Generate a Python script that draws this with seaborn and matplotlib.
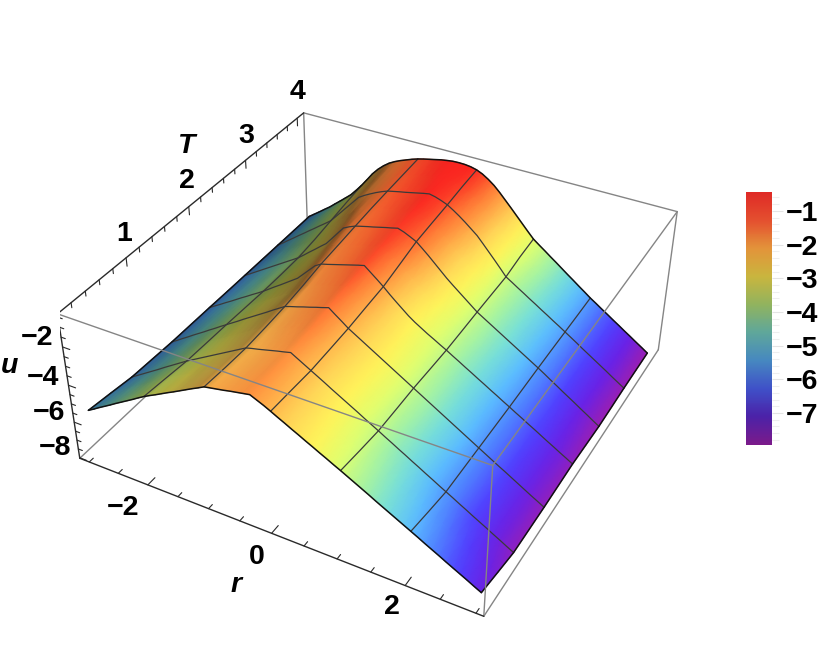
import numpy as np
import matplotlib
matplotlib.use('Agg')
import matplotlib.pyplot as plt
from matplotlib.cm import ScalarMappable
from matplotlib.colors import Normalize
from mpl_toolkits.mplot3d import proj3d
import seaborn as sns

# r runs -3..3 in steps of 0.1, one row of u per T value
r_vals = [round(-3 + 0.1 * i, 1) for i in range(61)]
T_vals = [0.1, 0.425, 0.75, 1.075, 1.4, 1.725, 2.05, 2.375, 2.7, 3.025, 3.35, 3.675, 4.0]

u_00 = [-5.45,-5.26,-5.06,-4.87,-4.68,-4.48,-4.29,-4.10,-3.91,-3.71,-3.52,
        -3.35,-3.19,-3.02,-2.85,-2.69,-2.52,-2.35,-2.18,-2.02,-1.85,
        -1.79,-1.73,-1.67,-1.60,-1.54,-1.48,-1.42,-1.57,-1.72,-1.89,
        -2.07,-2.24,-2.42,-2.59,-2.77,-2.94,-3.12,-3.29,-3.47,-3.64,
        -3.82,-4.00,-4.18,-4.36,-4.55,-4.73,-4.91,-5.09,-5.27,-5.45,
        -5.63,-5.82,-6.00,-6.18,-6.37,-6.55,-6.73,-6.91,-7.10,-7.28]
u_01 = [-5.60,-5.40,-5.21,-5.01,-4.81,-4.62,-4.42,-4.22,-4.02,-3.83,-3.63,
        -3.46,-3.29,-3.12,-2.95,-2.78,-2.60,-2.43,-2.26,-2.09,-1.92,
        -1.85,-1.78,-1.71,-1.63,-1.56,-1.49,-1.42,-1.59,-1.76,-1.93,
        -2.12,-2.30,-2.49,-2.67,-2.86,-3.04,-3.23,-3.41,-3.60,-3.78,
        -3.97,-4.16,-4.34,-4.53,-4.72,-4.91,-5.10,-5.28,-5.47,-5.66,
        -5.85,-6.04,-6.22,-6.41,-6.60,-6.79,-6.98,-7.16,-7.35,-7.54]
u_02 = [-5.76,-5.56,-5.36,-5.16,-4.96,-4.76,-4.55,-4.35,-4.15,-3.95,-3.75,
        -3.57,-3.39,-3.21,-3.03,-2.85,-2.67,-2.49,-2.31,-2.13,-1.95,
        -1.87,-1.80,-1.72,-1.64,-1.56,-1.49,-1.41,-1.60,-1.79,-1.98,
        -2.17,-2.36,-2.56,-2.75,-2.94,-3.13,-3.32,-3.52,-3.71,-3.90,
        -4.10,-4.29,-4.49,-4.68,-4.88,-5.07,-5.27,-5.46,-5.66,-5.85,
        -6.04,-6.24,-6.43,-6.63,-6.82,-7.01,-7.21,-7.40,-7.60,-7.79]
u_03 = [-5.80,-5.60,-5.40,-5.19,-4.99,-4.79,-4.59,-4.39,-4.18,-3.98,-3.78,
        -3.59,-3.40,-3.21,-3.02,-2.83,-2.64,-2.45,-2.26,-2.07,-1.88,
        -1.79,-1.70,-1.61,-1.52,-1.44,-1.35,-1.26,-1.48,-1.70,-1.92,
        -2.12,-2.31,-2.51,-2.70,-2.90,-3.10,-3.29,-3.49,-3.68,-3.88,
        -4.08,-4.27,-4.47,-4.67,-4.87,-5.06,-5.26,-5.46,-5.65,-5.85,
        -6.05,-6.24,-6.44,-6.63,-6.83,-7.03,-7.22,-7.42,-7.61,-7.81]
u_04 = [-5.84,-5.64,-5.43,-5.23,-5.02,-4.82,-4.62,-4.41,-4.21,-4.00,-3.80,
        -3.60,-3.40,-3.19,-2.99,-2.79,-2.59,-2.39,-2.18,-1.98,-1.78,
        -1.68,-1.59,-1.49,-1.40,-1.30,-1.21,-1.11,-1.36,-1.60,-1.85,
        -2.05,-2.25,-2.45,-2.65,-2.85,-3.05,-3.25,-3.45,-3.65,-3.85,
        -4.05,-4.25,-4.45,-4.65,-4.85,-5.05,-5.25,-5.45,-5.65,-5.85,
        -6.05,-6.25,-6.45,-6.64,-6.84,-7.04,-7.24,-7.44,-7.63,-7.83]
u_05 = [-5.84,-5.64,-5.44,-5.24,-5.04,-4.84,-4.64,-4.44,-4.24,-4.04,-3.84,
        -3.64,-3.43,-3.23,-3.02,-2.82,-2.61,-2.41,-2.20,-1.91,-1.62,
        -1.53,-1.43,-1.34,-1.24,-1.15,-1.05,-0.96,-1.21,-1.47,-1.72,
        -1.97,-2.21,-2.44,-2.66,-2.88,-3.09,-3.29,-3.49,-3.69,-3.88,
        -4.08,-4.28,-4.47,-4.67,-4.87,-5.06,-5.26,-5.46,-5.65,-5.85,
        -6.05,-6.24,-6.44,-6.64,-6.84,-7.03,-7.23,-7.43,-7.62,-7.82]
u_06 = [-5.84,-5.64,-5.45,-5.25,-5.06,-4.86,-4.66,-4.47,-4.27,-4.08,-3.88,
        -3.66,-3.44,-3.23,-3.01,-2.79,-2.57,-2.25,-1.93,-1.61,-1.42,
        -1.34,-1.25,-1.16,-1.07,-0.98,-0.89,-0.81,-1.07,-1.33,-1.60,
        -1.90,-2.18,-2.45,-2.72,-2.95,-3.15,-3.35,-3.53,-3.72,-3.90,
        -4.10,-4.29,-4.49,-4.68,-4.88,-5.07,-5.27,-5.46,-5.66,-5.85,
        -6.05,-6.24,-6.44,-6.63,-6.83,-7.03,-7.22,-7.42,-7.61,-7.81]
u_07 = [-5.85,-5.65,-5.46,-5.26,-5.06,-4.87,-4.67,-4.47,-4.27,-4.08,-3.88,
        -3.65,-3.42,-3.18,-2.95,-2.72,-2.42,-2.05,-1.68,-1.43,-1.30,
        -1.22,-1.13,-1.05,-0.97,-0.88,-0.80,-0.72,-0.92,-1.12,-1.33,
        -1.63,-1.92,-2.20,-2.47,-2.72,-2.97,-3.20,-3.43,-3.65,-3.86,
        -4.06,-4.25,-4.45,-4.65,-4.85,-5.04,-5.24,-5.44,-5.63,-5.83,
        -6.03,-6.24,-6.44,-6.65,-6.85,-7.06,-7.26,-7.47,-7.67,-7.88]
u_08 = [-5.85,-5.65,-5.45,-5.25,-5.05,-4.85,-4.65,-4.45,-4.25,-4.05,-3.85,
        -3.60,-3.34,-3.09,-2.83,-2.58,-2.21,-1.83,-1.46,-1.30,-1.17,
        -1.09,-1.01,-0.94,-0.86,-0.78,-0.71,-0.63,-0.74,-0.89,-1.05,
        -1.32,-1.60,-1.90,-2.20,-2.50,-2.77,-3.03,-3.29,-3.55,-3.81,
        -4.01,-4.21,-4.41,-4.61,-4.81,-5.01,-5.21,-5.41,-5.61,-5.81,
        -6.02,-6.24,-6.45,-6.67,-6.88,-7.09,-7.31,-7.52,-7.74,-7.95]
u_09 = [-5.85,-5.63,-5.42,-5.20,-4.99,-4.78,-4.56,-4.35,-4.13,-3.92,-3.70,
        -3.38,-3.06,-2.74,-2.42,-2.10,-1.80,-1.50,-1.33,-1.18,-1.05,
        -0.98,-0.91,-0.84,-0.77,-0.69,-0.62,-0.55,-0.63,-0.76,-0.92,
        -1.16,-1.43,-1.72,-2.00,-2.30,-2.60,-2.90,-3.19,-3.49,-3.78,
        -3.98,-4.18,-4.39,-4.59,-4.79,-4.99,-5.19,-5.40,-5.60,-5.80,
        -6.01,-6.23,-6.44,-6.66,-6.87,-7.08,-7.30,-7.51,-7.73,-7.94]
u_10 = [-5.85,-5.62,-5.38,-5.15,-4.91,-4.68,-4.44,-4.21,-3.97,-3.74,-3.50,
        -3.15,-2.80,-2.45,-2.10,-1.75,-1.55,-1.38,-1.22,-1.08,-0.96,
        -0.89,-0.82,-0.76,-0.69,-0.62,-0.55,-0.49,-0.56,-0.67,-0.80,
        -1.00,-1.22,-1.46,-1.72,-1.98,-2.32,-2.67,-3.02,-3.38,-3.75,
        -3.95,-4.16,-4.36,-4.57,-4.77,-4.98,-5.18,-5.39,-5.59,-5.80,
        -6.01,-6.22,-6.44,-6.65,-6.86,-7.07,-7.28,-7.50,-7.71,-7.92]
u_11 = [-5.85,-5.60,-5.35,-5.10,-4.85,-4.60,-4.34,-4.08,-3.82,-3.56,-3.30,
        -2.93,-2.56,-2.20,-1.90,-1.60,-1.42,-1.26,-1.12,-0.99,-0.88,
        -0.81,-0.74,-0.67,-0.60,-0.53,-0.47,-0.47,-0.50,-0.56,-0.65,
        -0.82,-1.02,-1.25,-1.55,-1.90,-2.23,-2.56,-2.89,-3.22,-3.55,
        -3.77,-4.00,-4.22,-4.45,-4.67,-4.90,-5.12,-5.35,-5.57,-5.80,
        -6.01,-6.23,-6.44,-6.65,-6.87,-7.08,-7.29,-7.50,-7.72,-7.93]
u_12 = [-5.85,-5.62,-5.39,-5.15,-4.92,-4.65,-4.39,-4.12,-3.85,-3.50,-3.13,
        -2.72,-2.30,-1.96,-1.68,-1.45,-1.28,-1.14,-1.02,-0.90,-0.80,
        -0.72,-0.65,-0.58,-0.51,-0.46,-0.42,-0.41,-0.42,-0.46,-0.54,
        -0.68,-0.88,-1.12,-1.42,-1.75,-2.08,-2.42,-2.76,-3.10,-3.43,
        -3.67,-3.90,-4.14,-4.37,-4.61,-4.85,-5.08,-5.32,-5.55,-5.79,
        -6.00,-6.22,-6.43,-6.65,-6.86,-7.08,-7.29,-7.51,-7.72,-7.94]

U = np.array([u_00,u_01,u_02,u_03,u_04,u_05,u_06,u_07,u_08,u_09,u_10,u_11,u_12])
R, TT = np.meshgrid(r_vals, T_vals)

mesh_r = [-2, -1, 0, 1, 2]
mesh_T = [0.75, 1.4, 2.05, 2.7, 3.35]
u_min, u_max = -7.95, -0.44
r_lim = (-3.166, 3.108)
T_lim = (0.012, 4.131)
u_lim = (-8.03, -0.33)

surface_colors = ['#9A1FB4','#6A22E6','#5040FF','#4F82FF','#5CBEFF','#78E0D8','#A8F4A0',
                  '#DFFF70','#FFF45A','#FFD658','#FFAA48','#FF7434','#FA2420']
bar_colors = ['#7B1A8A','#4B22A8','#3F50C8','#4688C0','#5FA79A','#90B35F','#C9B53E',
              '#E3933A','#E4502F','#DF2A26']

sns.set_style('white')
plt.rcParams['font.family'] = ['Liberation Sans', 'DejaVu Sans']
plt.rcParams['text.color'] = 'black'
plt.rcParams['ytick.labelcolor'] = 'black'

surf_cmap = sns.blend_palette(surface_colors, n_colors=256, as_cmap=True)
bar_cmap = sns.blend_palette(bar_colors, n_colors=256, as_cmap=True)
norm = Normalize(u_min, u_max)

W, H = 830, 671
fig = plt.figure(figsize=(W / 100, H / 100), dpi=100)
pos = [59.73 / W, (H - 656.07) / H, 628.6 / W, 628.6 / H]

# the 3d axes only supplies the camera, everything is drawn on a flat axes over it
ax3 = fig.add_axes(pos, projection='3d')
ax3.set_xlim(*r_lim)
ax3.set_ylim(*T_lim)
ax3.set_zlim(*u_lim)
ax3.set_box_aspect((1.208, 1.211, 0.481))
ax3.view_init(elev=36.363, azim=-61.69, roll=-0.109)
ax3.set_proj_type('persp', focal_length=0.446)
ax3.set_visible(False)
M = ax3.get_proj()

ax = fig.add_axes(pos)
ax.set_xlim(-0.095, 0.09)
ax.set_ylim(-0.095, 0.09)
ax.set_axis_off()


def project(x, y, z):
    x, y, z = np.asarray(x, float), np.asarray(y, float), np.asarray(z, float)
    px, py, _ = proj3d.proj_transform(x.ravel(), y.ravel(), z.ravel(), M)
    return np.reshape(px, x.shape), np.reshape(py, x.shape)


def line3(x, y, z, **kw):
    px, py = project(x, y, z)
    ax.plot(px, py, solid_capstyle='round', **kw)


# height colour, darkened on the side that faces away from the light
slope = np.gradient(U, 0.1, axis=1)
shade = np.clip(1 - 0.105 * np.clip(slope, 0, None) ** 2, 0.5, 1)
faces = surf_cmap(norm(U))
faces[..., :3] *= shade[..., None]

# far rows first so that nearer parts of the surface paint over them
X2, Y2 = project(R[::-1], TT[::-1], U[::-1])
ax.pcolormesh(X2, Y2, faces[::-1], shading='gouraud', zorder=2)

# mesh and boundary of the surface
for t in mesh_T:
    i = T_vals.index(min(T_vals, key=lambda v: abs(v - t)))
    line3(R[i], TT[i], U[i], color='#3a3a3a', lw=0.9, zorder=3)
for v in mesh_r:
    j = r_vals.index(v)
    line3(R[:, j], TT[:, j], U[:, j], color='#3a3a3a', lw=0.9, zorder=3)
for i in (0, -1):
    line3(R[i], TT[i], U[i], color='#111111', lw=1.1, zorder=3)
for j in (0, -1):
    line3(R[:, j], TT[:, j], U[:, j], color='#111111', lw=1.1, zorder=3)

# box
r0, r1 = r_lim
t0, t1 = T_lim
z0, z1 = u_lim
gray = '#858585'
back = [((r0, t0, z0), (r0, t1, z0)), ((r0, t1, z0), (r0, t1, z1)), ((r0, t1, z1), (r1, t1, z1)),
        ((r1, t1, z0), (r1, t1, z1)), ((r1, t0, z0), (r1, t1, z0))]
front = [((r0, t0, z1), (r1, t0, z1)), ((r1, t0, z1), (r1, t1, z1)), ((r1, t0, z0), (r1, t0, z1))]
for a, b in back:
    line3(*zip(a, b), color=gray, lw=1.0, zorder=1)
for a, b in front:
    line3(*zip(a, b), color=gray, lw=1.0, zorder=4)
dark = '#2a2a2a'
line3([r0, r1], [t0, t0], [z0, z0], color=dark, lw=1.0, zorder=4)
line3([r0, r0], [t0, t1], [z1, z1], color=dark, lw=1.0, zorder=4)
line3([r0, r0], [t0, t0], [z0, z1], color=dark, lw=1.0, zorder=4)

# ticks
for v in np.arange(-3, 3.01, 0.5):
    d = 0.11 if v % 2 == 0 else 0.06
    line3([v, v], [t0, t0 + d], [z0, z0], color=dark, lw=0.8, zorder=4)
for v in np.arange(0.2, 4.01, 0.2):
    d = 0.43 if abs(v - round(v)) < 1e-6 else 0.25
    line3([r0, r0], [v, v], [z1, z1 - d], color=dark, lw=0.8, zorder=4)
for v in np.arange(-8, -0.4, 0.5):
    d = 0.12 if v % 2 == 0 else 0.07
    line3([r0, r0 + d], [t0, t0], [v, v], color=dark, lw=0.8, zorder=4)


def label(x, y, s, style='normal'):
    fig.text(x / W, 1 - y / H, s, ha='center', va='center', fontsize=20.5, fontweight='bold', fontstyle=style)


for x, y, s in [(124, 234, '1'), (187, 181, '2'), (246, 136, '3'), (298, 92, '4')]:
    label(x, y, s)
for x, y, s in [(123, 508, '\u22122'), (257, 557, '0'), (392, 607, '2')]:
    label(x, y, s)
for x, y, s in [(37, 338, '\u22122'), (43, 378, '\u22124'), (49, 413, '\u22126'), (55, 448, '\u22128')]:
    label(x, y, s)
label(187, 146, 'T', 'italic')
label(236, 585, 'r', 'italic')
label(9, 366, 'u', 'italic')

# colour bar
cax = fig.add_axes([746 / W, 1 - 445 / H, 26 / W, 253 / H])
cb = fig.colorbar(ScalarMappable(norm=norm, cmap=bar_cmap), cax=cax)
cb.outline.set_visible(False)
bar_ticks = [-7, -6, -5, -4, -3, -2, -1]
cb.set_ticks(bar_ticks)
cb.set_ticklabels(['\u2212%d' % abs(v) for v in bar_ticks])
cax.set_yticks(np.arange(-7.8, -0.5, 0.2), minor=True)
cax.tick_params(axis='y', which='major', length=8, width=0.8, color='#e4e4e4', pad=2, labelsize=20.5)
cax.tick_params(axis='y', which='minor', length=5, width=0.8, color='#eeeeee')
for t in cax.get_yticklabels():
    t.set_fontweight('bold')

fig.savefig('out.png', dpi=100)
